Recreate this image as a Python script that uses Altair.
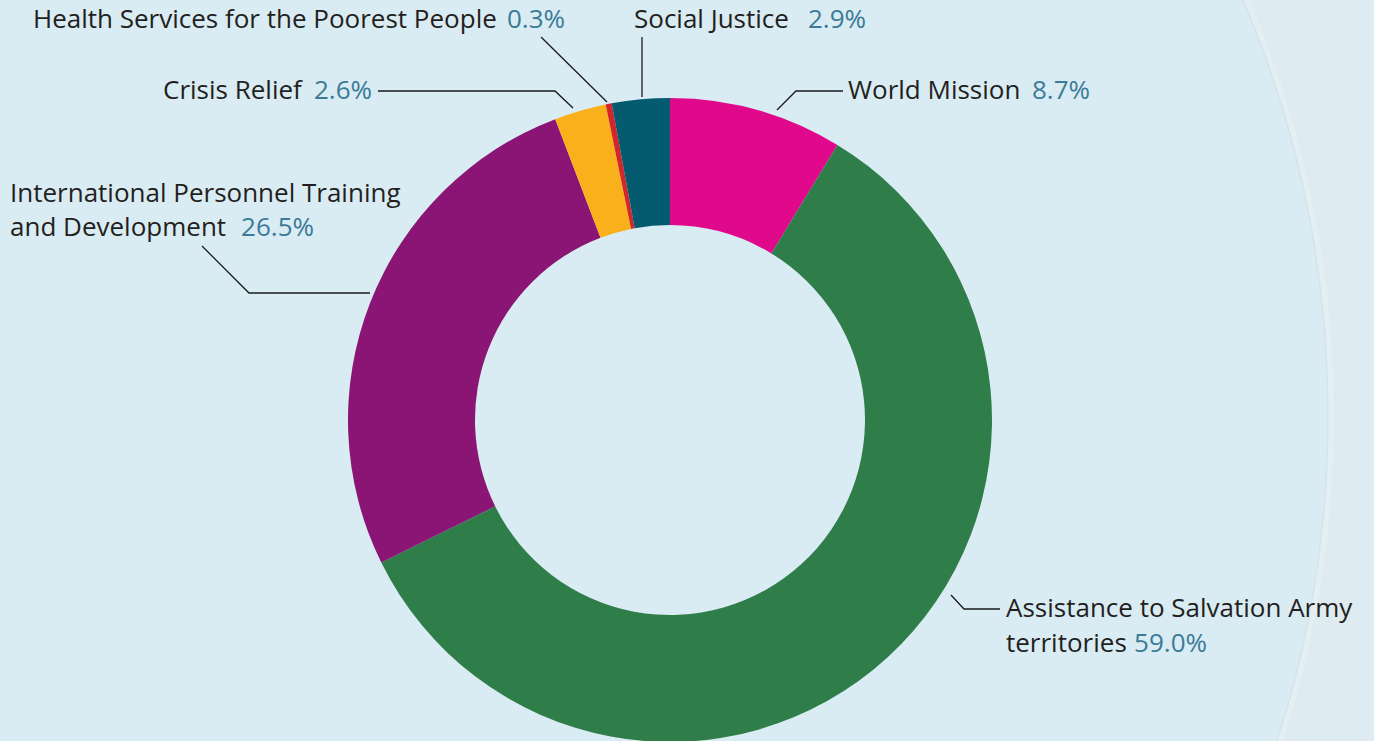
import altair as alt
import pandas as pd

# ---- data ----
categories = ["World Mission", "Assistance to Salvation Army territories",
              "International Personnel Training and Development", "Crisis Relief",
              "Health Services for the Poorest People", "Social Justice"]
shares = [8.7, 59.0, 26.5, 2.6, 0.3, 2.9]
colors = ["#e0098c", "#2f7e4a", "#8a1574", "#f9b01b", "#d3262b", "#045a6f"]

# label text lines (name part)
label_lines = ["Health Services for the Poorest People", "Social Justice", "Crisis Relief",
               "World Mission", "International Personnel Training", "and Development",
               "Assistance to Salvation Army", "territories"]

# ---- layout (pixels) ----
W, H = 1374, 741
CX, CY, R_OUT, R_IN = 670, 420, 322, 195
name_x = [33, 634, 163, 848, 10, 10, 1006, 1006]
name_y = [20, 20, 91, 91, 194, 228, 609, 644]
pct_cat = ["Health Services for the Poorest People", "Social Justice", "Crisis Relief",
           "World Mission", "International Personnel Training and Development",
           "Assistance to Salvation Army territories"]
pct_right_x = [565, 866, 372, 1090, 314, 1207]
pct_y = [20, 20, 91, 91, 228, 644]
leaders = {
    "Health": [(541, 37), (607, 102)],
    "Social": [(642, 37), (642, 97)],
    "Crisis": [(378, 91), (555, 91), (573, 108)],
    "World": [(777, 110), (796, 91), (843, 91)],
    "Intl": [(202, 246), (249, 293), (370, 293)],
    "Assist": [(951, 595), (964, 609), (1000, 609)],
}
BG_CX, BG_CY, BG_R = 268, 416, 1060

FONT = "Open Sans"
FS = 26
NAME_COLOR = "#231f20"
PCT_COLOR = "#3b7b97"

share_of = dict(zip(categories, shares))

donut_df = pd.DataFrame({"category": categories, "value": shares,
                         "idx": list(range(len(categories)))})
names_df = pd.DataFrame({"t": label_lines, "px": name_x, "py": name_y})
pct_df = pd.DataFrame({"t": [f"{share_of[c]:.1f}%" for c in pct_cat],
                       "px": pct_right_x, "py": pct_y})
rows = []
for k, pts in leaders.items():
    for i, (x, y) in enumerate(pts):
        rows.append({"lid": k, "ord": i, "px": x, "py": y})
lead_df = pd.DataFrame(rows)

one = pd.DataFrame({"a": [0]})
bg_glow = alt.Chart(one).mark_point(
    shape="circle", filled=True, fill="#e4eff4", opacity=1, strokeWidth=0,
    size=(2 * (BG_R + 6)) ** 2
).encode(x=alt.value(BG_CX), y=alt.value(BG_CY))

bg_circle = alt.Chart(one).mark_point(
    shape="circle", filled=True, fill="#d9ebf3", opacity=1,
    stroke="#d2dfe5", strokeWidth=1.5, strokeOpacity=0.7,
    size=(2 * BG_R) ** 2
).encode(x=alt.value(BG_CX), y=alt.value(BG_CY))

donut = alt.Chart(donut_df).mark_arc(outerRadius=R_OUT, innerRadius=R_IN).encode(
    theta=alt.Theta("value:Q", stack=True),
    color=alt.Color("category:N", scale=alt.Scale(domain=categories, range=colors), legend=None),
    order=alt.Order("idx:Q"),
    x=alt.value(CX), y=alt.value(CY),
)

lines = alt.Chart(lead_df).mark_line(color="#1a1a1a", strokeWidth=1.3).encode(
    x=alt.X("px:Q", scale=None, axis=None),
    y=alt.Y("py:Q", scale=None, axis=None),
    detail="lid:N", order="ord:Q",
)

names = alt.Chart(names_df).mark_text(
    align="left", baseline="middle", font=FONT, fontSize=FS, color=NAME_COLOR
).encode(x=alt.X("px:Q", scale=None, axis=None), y=alt.Y("py:Q", scale=None, axis=None), text="t:N")

pcts = alt.Chart(pct_df).mark_text(
    align="right", baseline="middle", font=FONT, fontSize=FS, color=PCT_COLOR
).encode(x=alt.X("px:Q", scale=None, axis=None), y=alt.Y("py:Q", scale=None, axis=None), text="t:N")

chart = alt.layer(bg_glow, bg_circle, donut, lines, names, pcts).properties(
    width=W, height=H, padding=0, autosize=alt.AutoSizeParams(type="none"),
    background="#deebf0",
).configure_view(stroke=None)

chart.save("out.html", embed_options={"renderer": "svg", "actions": False})
